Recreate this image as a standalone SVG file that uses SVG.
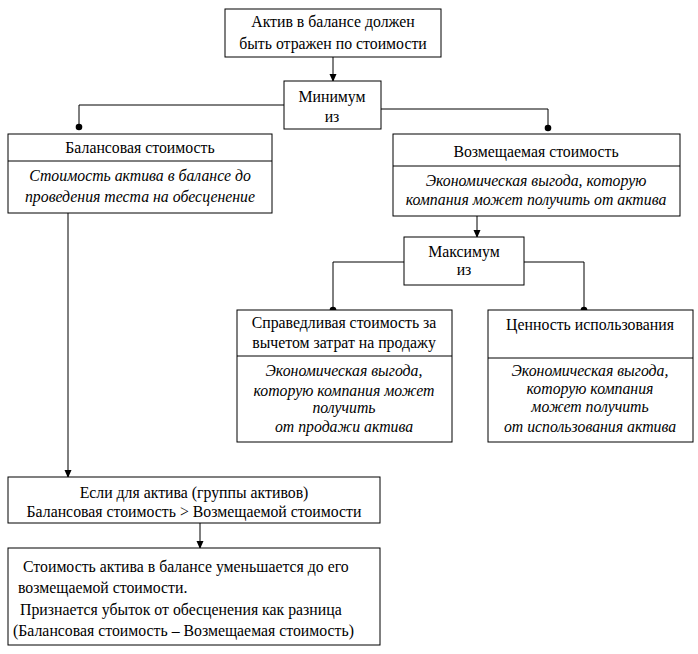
<svg xmlns="http://www.w3.org/2000/svg" width="698" height="654" viewBox="0 0 698 654">
<style>
rect{fill:#fff;stroke:#000;stroke-width:1}
.d{stroke:#000;stroke-width:1}
.c{fill:none;stroke:#000;stroke-width:1}
text{font-family:"Liberation Serif","DejaVu Serif","Times New Roman",serif;font-size:15.8px;fill:#000}
.m{text-anchor:middle}
.i{font-style:italic}
</style>
<defs>
<marker id="a" markerWidth="8" markerHeight="8" refX="7" refY="4" orient="auto" markerUnits="userSpaceOnUse"><path d="M0,0.5 L8,4 L0,7.5 Z" fill="#000"/></marker>
<marker id="o" markerWidth="8" markerHeight="8" refX="4" refY="4" markerUnits="userSpaceOnUse"><circle cx="4" cy="4" r="3.3" fill="#000"/></marker>
</defs>
<g id="connectors">
<path class="c" d="M333,57 V81" marker-end="url(#a)"/>
<path class="c" d="M284,105 H79 V127" marker-end="url(#o)"/>
<path class="c" d="M381,109 H548 V128" marker-end="url(#o)"/>
<path class="c" d="M477,216 V237" marker-end="url(#a)"/>
<path class="c" d="M404,262 H333 V310" marker-end="url(#o)"/>
<path class="c" d="M524,262 H584 V310" marker-end="url(#o)"/>
<path class="c" d="M68,213 V477" marker-end="url(#a)"/>
<path class="c" d="M200,523 V548" marker-end="url(#a)"/>
</g>
<g id="top">
<rect x="225" y="9" width="216" height="48"/>
<text class="m" x="333" y="27">Актив в балансе должен</text>
<text class="m" x="333" y="49">быть отражен по стоимости</text>
</g>
<g id="min">
<rect x="284" y="81" width="97" height="48"/>
<text class="m" x="332" y="102">Минимум</text>
<text class="m" x="332" y="122">из</text>
</g>
<g id="balance">
<rect x="8" y="134" width="264" height="79"/>
<line class="d" x1="8" y1="161" x2="272" y2="161"/>
<text class="m" x="140" y="153">Балансовая стоимость</text>
<text class="m i" x="140" y="181">Стоимость актива в балансе до</text>
<text class="m i" x="140" y="202">проведения теста  на обесценение</text>
</g>
<g id="recoverable">
<rect x="393" y="134" width="287" height="82"/>
<line class="d" x1="393" y1="166" x2="680" y2="166"/>
<text class="m" x="536" y="157">Возмещаемая стоимость</text>
<text class="m i" x="536" y="186">Экономическая выгода, которую</text>
<text class="m i" x="536" y="205">компания может получить от актива</text>
</g>
<g id="max">
<rect x="404" y="237" width="120" height="48"/>
<text class="m" x="464" y="257">Максимум</text>
<text class="m" x="464" y="275">из</text>
</g>
<g id="fairvalue">
<rect x="237" y="310" width="215" height="132"/>
<line class="d" x1="237" y1="356" x2="452" y2="356"/>
<text class="m" x="344" y="328">Справедливая стоимость за</text>
<text class="m" x="344" y="348">вычетом затрат на продажу</text>
<text class="m i" x="344" y="376">Экономическая выгода,</text>
<text class="m i" x="344" y="396">которую компания может</text>
<text class="m i" x="344" y="413">получить</text>
<text class="m i" x="344" y="432">от продажи актива</text>
</g>
<g id="valueinuse">
<rect x="488" y="310" width="205" height="132"/>
<line class="d" x1="488" y1="358" x2="693" y2="358"/>
<text class="m" x="590" y="330">Ценность использования</text>
<text class="m i" x="590" y="376">Экономическая выгода,</text>
<text class="m i" x="590" y="394">которую компания</text>
<text class="m i" x="590" y="412">может получить</text>
<text class="m i" x="590" y="432">от использования актива</text>
</g>
<g id="condition">
<rect x="8" y="477" width="372" height="46"/>
<text class="m" x="194" y="498">Если для актива (группы активов)</text>
<text class="m" x="194" y="517">Балансовая стоимость &gt; Возмещаемой стоимости</text>
</g>
<g id="result">
<rect x="8" y="548" width="372" height="97"/>
<text x="23" y="572">Стоимость актива в балансе уменьшается до его</text>
<text x="18" y="593">возмещаемой стоимости.</text>
<text x="20" y="615">Признается убыток от обесценения как разница</text>
<text x="13" y="636">(Балансовая стоимость – Возмещаемая стоимость)</text>
</g>
</svg>
